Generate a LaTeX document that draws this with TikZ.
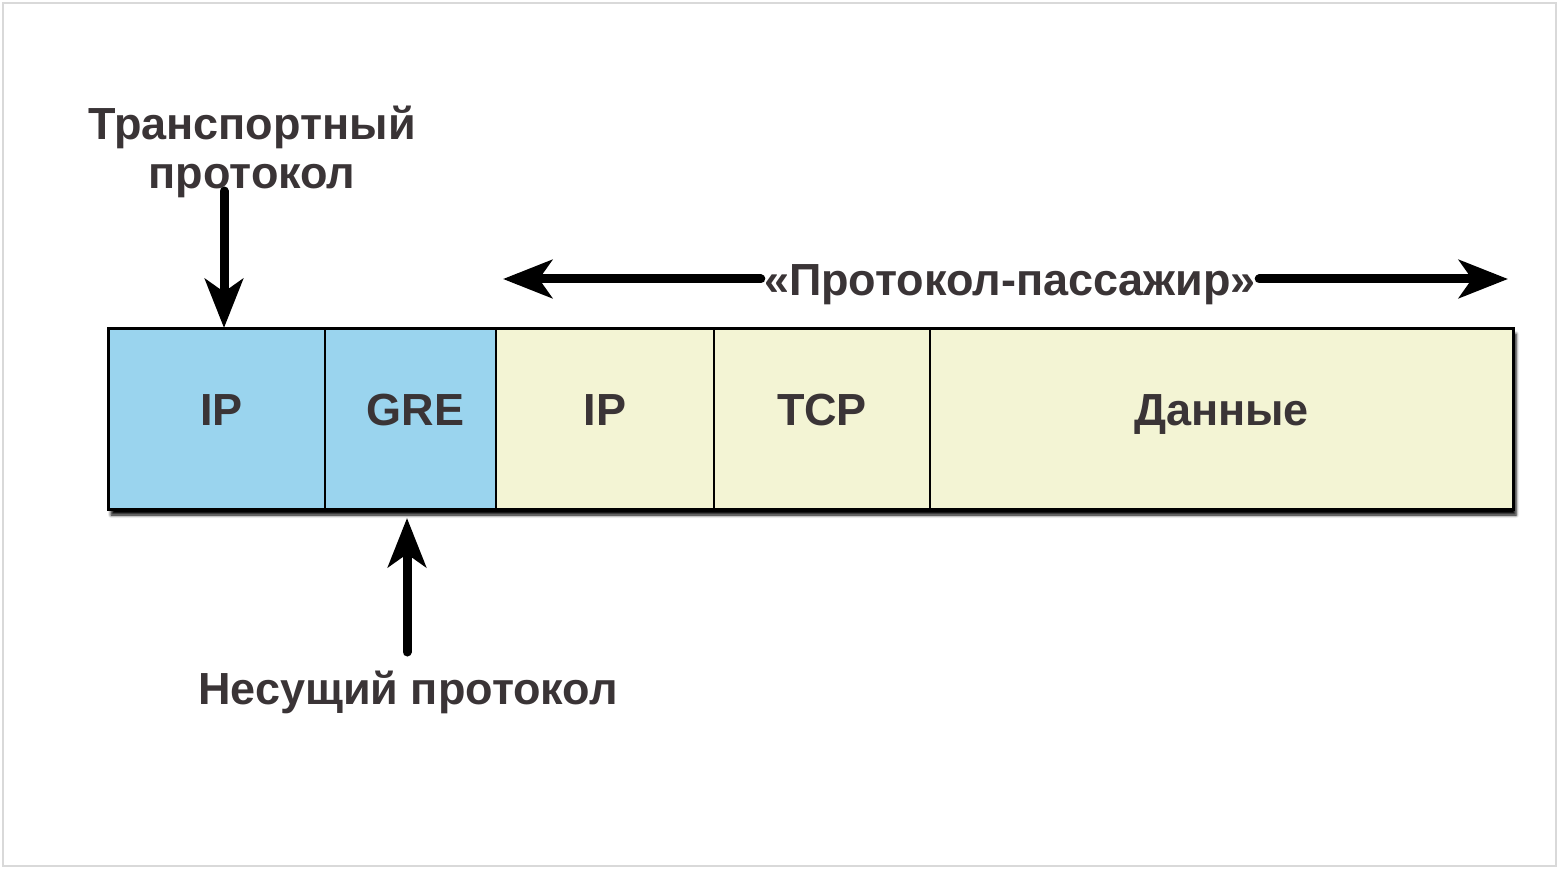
\documentclass[tikz,border=0pt]{standalone}
\usepackage{fontspec}
\setmainfont{Liberation Sans}
\usetikzlibrary{arrows.meta,positioning,shadows.blur}
\definecolor{ink}{RGB}{58,52,54}
\definecolor{carrierblue}{RGB}{154,212,238}
\definecolor{passyellow}{RGB}{243,244,212}
\definecolor{framegray}{RGB}{217,217,217}
\tikzset{
  cell/.style={draw=black, line width=2.5pt, minimum height=181pt, inner sep=0pt, outer sep=0pt,
    text height=32pt, text depth=18pt, font=\fontsize{45}{50}\selectfont\bfseries, text=ink},
  carrier/.style={cell, fill=carrierblue},
  passenger/.style={cell, fill=passyellow},
  lbl/.style={font=\fontsize{45}{49}\selectfont\bfseries, text=ink, align=center},
  ptr/.style={line width=9pt, line cap=round, -{Stealth[length=49pt,width=38pt,inset=13pt]}},
}

\begin{document}
\begin{tikzpicture}[x=1pt,y=-1pt]
\useasboundingbox (0,0) rectangle (1559,869);
\draw[framegray, line width=1.5pt] (3,3) rectangle (1556,866);

% packet
\node[minimum width=1405pt, minimum height=181pt, inner sep=0pt, outer sep=0pt, fill=white,
  blur shadow={shadow xshift=3pt, shadow yshift=-6pt, shadow blur radius=3pt, shadow opacity=100},
  anchor=north west] (pkt) at (108,328) {};
\node[carrier, minimum width=217pt, anchor=north west] (ip1) at (pkt.north west) {\hspace*{10pt}IP};
\node[carrier, minimum width=171pt, right=0pt of ip1] (gre) {\hspace*{10pt}GRE};
\node[passenger, minimum width=218pt, right=0pt of gre] (ip2) {IP};
\node[passenger, minimum width=216pt, right=0pt of ip2] (tcp) {TCP};
\node[passenger, minimum width=583pt, right=0pt of tcp] (data) {Данные};
\draw[line width=3pt] (pkt.north west) rectangle (pkt.south east);

% labels
\node[lbl] (transport) at (252,152) {Транспортный\\протокол};
\node[lbl, anchor=base] (carrierlbl) at (408,704) {Несущий протокол};
\node[lbl, anchor=base, inner sep=3pt] (passlbl) at (1010,295) {«Протокол-пассажир»};

\coordinate (transport tail) at (224,191);
\coordinate (carrier tail) at (407,652);
\coordinate (pass left) at (503,279);
\coordinate (pass right) at (1508,279);

% arrows
\draw[ptr] (transport tail) -- (transport tail |- ip1.north);
\draw[ptr] (carrier tail) -- ([yshift=-9pt]carrier tail |- gre.south);
\draw[ptr] (passlbl.west |- pass left) -- (pass left);
\draw[ptr] (passlbl.east |- pass right) -- (pass right);
\end{tikzpicture}
\end{document}
